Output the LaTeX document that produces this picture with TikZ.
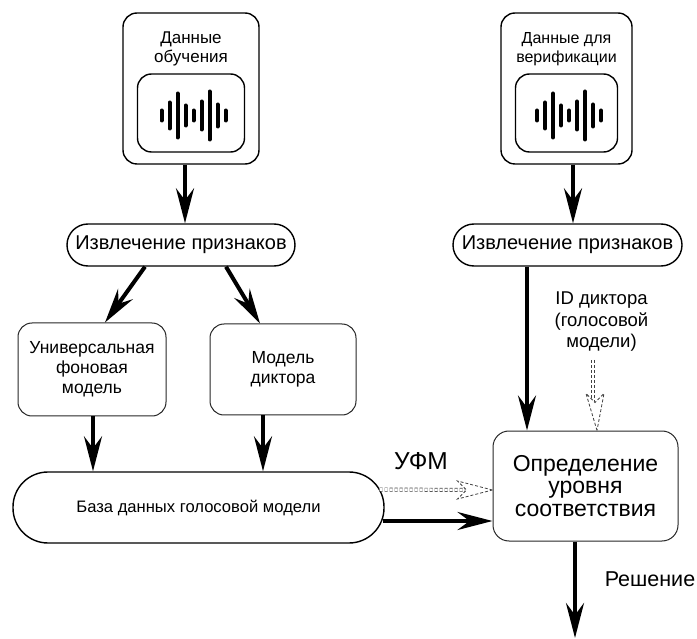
\documentclass[tikz,border=0pt]{standalone}
\usepackage{fontspec}
\setmainfont{Liberation Sans}
\usetikzlibrary{positioning,arrows.meta}

\newcommand{\wavebars}[1]{
    \foreach \dx/\hh in {-32/5,-24/13,-16/22,-8/10,0/5,8/14,16/24,24/11,32/5}
        \draw[wavebar] ([xshift=\dx pt+2.5pt,yshift=\hh pt-2.5pt]#1.center) -- ([xshift=\dx pt+2.5pt,yshift=-\hh pt-2.5pt]#1.center);
}

\begin{document}
\begin{tikzpicture}[
    x=1pt, y=-1pt,
    roundbox/.style={draw=black, rectangle, rounded corners=14pt, line width=1.4pt, align=center, inner sep=0pt},
    thinbox/.style={roundbox, draw=black!85, line width=1pt, font=\fontsize{17.5}{20}\selectfont},
    bigtext/.style={font=\fontsize{20}{27}\selectfont, align=center},
    plaintext/.style={align=center, inner sep=0pt, font=\fontsize{17}{19.5}\selectfont},
    wavebar/.style={line width=4pt, line cap=round},
    thickarrow/.style={-{Stealth[length=35pt,width=18pt,inset=12pt]}, line width=4pt},
    hollowshaft/.style={draw=black!75, densely dashed, line width=0.7pt, double, double distance=2.6pt},
    hollowhead/.style={draw=black!75, densely dashed, line width=0.8pt, fill=white}
    ]
        \useasboundingbox (0,0) rectangle (697,639);

        %Nodes
        \node[roundbox, minimum width=136pt, minimum height=151pt]
            (traindata) at (191,88.5) {};
        \node[roundbox, minimum width=107pt, minimum height=78pt]
            (trainwave) [below=61pt of traindata.north] {};
        \node[plaintext]
            (traintext) [above=7pt of trainwave] {Данные\\обучения};
        \node[roundbox, minimum width=131pt, minimum height=151pt]
            (verifdata) [right=240.6pt of traindata] {};
        \node[roundbox, minimum width=102pt, minimum height=78pt]
            (verifwave) [below=61pt of verifdata.north] {};
        \node[plaintext, font=\fontsize{16}{19.5}\selectfont]
            (veriftext) [above=7pt of verifwave] {Данные для\\верификации};

        \node[roundbox, bigtext, rounded corners=21pt, minimum width=228pt, minimum height=42pt]
            (trainfeat) [below=58.6pt of traindata, xshift=-10pt] {Извлечение признаков};
        \node[roundbox, bigtext, rounded corners=21pt, minimum width=229pt, minimum height=42pt]
            (veriffeat) [below=58.6pt of verifdata, xshift=1pt] {Извлечение признаков};

        \node[thinbox, minimum width=148pt, minimum height=93pt]
            (ubmbox) at (92,369.5) {Универсальная\\фоновая\\модель};
        \node[thinbox, minimum width=146pt, minimum height=91pt]
            (spkbox) [right=43pt of ubmbox] {Модель\\диктора};
        \node[roundbox, font=\fontsize{16.6}{19}\selectfont, rounded corners=35pt, minimum width=371pt, minimum height=71pt]
            (dbase) at (198.5,507.5) {База данных голосовой модели};
        \node[roundbox, draw=black!85, line width=1pt, rounded corners=16pt, font=\fontsize{23}{22.5}\selectfont, minimum width=185pt, minimum height=110pt]
            (match) at (585.5,486) {Определение\\уровня\\соответствия};

        \node[plaintext, font=\fontsize{18.5}{21.5}\selectfont]
            (idtext) at (601.5,322) {ID диктора\\(голосовой\\модели)};
        \node[bigtext, font=\fontsize{24.5}{27}\selectfont, inner sep=0pt]
            (ufmtext) at (421,461) {УФМ};
        \node[bigtext, font=\fontsize{21.5}{27}\selectfont, inner sep=0pt]
            (solution) at (650,579) {Решение};
        \coordinate (idstart) at (593,360);
        \coordinate (exit) at (575,638);

        \wavebars{trainwave}
        \wavebars{verifwave}

        %Lines
        \draw[thickarrow] (traindata.south -| 185,0) -- (trainfeat.north -| 185,0);
        \draw[thickarrow] (trainfeat.south -| 145,0) -- (ubmbox.north -| 105,0);
        \draw[thickarrow] (trainfeat.south -| 226,0) -- (spkbox.north -| 260,0);
        \draw[thickarrow] (ubmbox.south -| 93,0) -- (dbase.north -| 93,0);
        \draw[thickarrow] (spkbox.south -| 263,0) -- (dbase.north -| 263,0);
        \draw[thickarrow] (verifdata.south -| 573,0) -- (veriffeat.north -| 573,0);
        \draw[thickarrow] (veriffeat.south -| 527,0) -- (match.north -| 527,0);
        \draw[thickarrow] ([xshift=-2pt,yshift=-13.5pt]dbase.east) -- ([yshift=-35pt]match.west);
        \draw[thickarrow] (match.south -| exit) -- (exit);

        \draw[hollowshaft] ([xshift=-5pt,yshift=18pt]dbase.east) -- (466,490);
        \draw[hollowhead] (match.west |- 0,490) -- ++(-35,-9) -- ++(9,9) -- ++(-9,9) -- cycle;
        \draw[hollowshaft] (idstart) -- (593,402);
        \draw[hollowhead] (match.north -| 597,0) -- ++(-11,-37) -- ++(9,9) -- ++(9,-9) -- cycle;
    \end{tikzpicture}
\end{document}
